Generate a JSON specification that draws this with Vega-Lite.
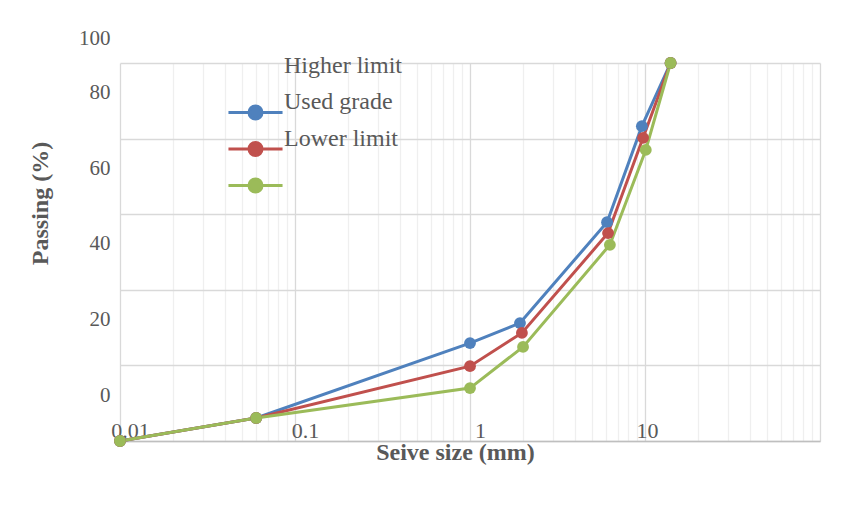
{
  "$schema": "https://vega.github.io/schema/vega-lite/v6.json",
  "width": 700,
  "height": 378,
  "autosize": {"type": "none"},
  "padding": {"left": 120, "top": 63, "right": 31, "bottom": 67},
  "background": "white",
  "config": {"view": {"stroke": null}, "font": "Liberation Serif"},
  "data": {
    "values": [
      {"series": "Higher limit", "size": 0.01, "passing": 0},
      {"series": "Higher limit", "size": 0.06, "passing": 6.1},
      {"series": "Higher limit", "size": 1.0, "passing": 25.9},
      {"series": "Higher limit", "size": 1.93, "passing": 31.2},
      {"series": "Higher limit", "size": 6.07, "passing": 57.9},
      {"series": "Higher limit", "size": 9.6, "passing": 83.3},
      {"series": "Higher limit", "size": 14, "passing": 100},
      {"series": "Used grade", "size": 0.01, "passing": 0},
      {"series": "Used grade", "size": 0.06, "passing": 6.1},
      {"series": "Used grade", "size": 1.0, "passing": 19.8},
      {"series": "Used grade", "size": 1.98, "passing": 28.6},
      {"series": "Used grade", "size": 6.15, "passing": 55.0},
      {"series": "Used grade", "size": 9.75, "passing": 80.2},
      {"series": "Used grade", "size": 14, "passing": 100},
      {"series": "Lower limit", "size": 0.01, "passing": 0},
      {"series": "Lower limit", "size": 0.06, "passing": 6.1},
      {"series": "Lower limit", "size": 1.0, "passing": 14.0},
      {"series": "Lower limit", "size": 2.01, "passing": 24.9},
      {"series": "Lower limit", "size": 6.3, "passing": 51.9},
      {"series": "Lower limit", "size": 10.1, "passing": 77.0},
      {"series": "Lower limit", "size": 14, "passing": 100}
    ]
  },
  "mark": {"type": "line", "strokeWidth": 3, "point": {"filled": true, "size": 140, "opacity": 1}},
  "encoding": {
    "x": {
      "field": "size",
      "type": "quantitative",
      "scale": {"type": "log", "domain": [0.01, 100], "nice": false},
      "axis": {
        "title": "Seive size (mm)",
        "values": [0.01, 0.02, 0.03, 0.04, 0.05, 0.06, 0.07, 0.08, 0.09, 0.1, 0.2, 0.3, 0.4, 0.5, 0.6, 0.7, 0.8, 0.9, 1, 2, 3, 4, 5, 6, 7, 8, 9, 10, 20, 30, 40, 50, 60, 70, 80, 90, 100],
        "labelExpr": "datum.value == 0.01 ? '0.01' : datum.value == 0.1 ? '0.1' : datum.value == 1 ? '1' : datum.value == 10 ? '10' : ''",
        "ticks": false,
        "tickSize": 0,
        "labelPadding": -4,
        "labelBaseline": "alphabetic",
        "labelFontSize": 22,
        "labelColor": "#595959",
        "labelFont": "Liberation Serif",
        "labelOffset": {"condition": {"test": "datum.value == 10", "value": 2}, "value": 10},
        "labelFlush": false,
        "labelOverlap": false,
        "labelBound": false,
        "grid": true,
        "gridColor": {"condition": {"test": "datum.value == 0.01 || datum.value == 0.1 || datum.value == 1 || datum.value == 10 || datum.value == 100", "value": "#D9D9D9"}, "value": "#EFEFEF"},
        "gridWidth": 1.3,
        "domain": true,
        "domainColor": "#BFBFBF",
        "domainWidth": 1.5,
        "titleFont": "Liberation Serif",
        "titleFontSize": 24,
        "titleFontWeight": "bold",
        "titleColor": "#595959",
        "titleX": 335,
        "titleY": 18,
        "titleBaseline": "alphabetic",
        "titleAlign": "center"
      }
    },
    "y": {
      "field": "passing",
      "type": "quantitative",
      "scale": {"domain": [0, 100], "nice": false},
      "axis": {
        "title": "Passing (%)",
        "values": [0, 20, 40, 60, 80, 100],
        "ticks": false,
        "tickSize": 0,
        "domain": false,
        "labelPadding": 10,
        "labelFontSize": 21,
        "labelColor": "#595959",
        "labelFont": "Liberation Serif",
        "labelOffset": {"condition": {"test": "datum.value == 100", "value": -25}, "value": -46},
        "labelBound": false,
        "labelFlush": false,
        "labelOverlap": false,
        "grid": true,
        "gridColor": "#D9D9D9",
        "gridWidth": 1.5,
        "titleX": -80,
        "titleY": 140,
        "titleAngle": -90,
        "titleAlign": "center",
        "titleBaseline": "middle",
        "titleFont": "Liberation Serif",
        "titleFontSize": 24,
        "titleFontWeight": "bold",
        "titleColor": "#595959"
      }
    },
    "color": {
      "field": "series",
      "type": "nominal",
      "sort": ["Higher limit", "Used grade", "Lower limit"],
      "scale": {"domain": ["Higher limit", "Used grade", "Lower limit"], "range": ["#4F81BD", "#C0504D", "#9BBB59"]},
      "legend": {
        "orient": "none",
        "legendX": 121,
        "legendY": 35,
        "title": null,
        "padding": 0,
        "symbolType": "M-2.08,0H2.08M0.5,0A0.5,0.5,0,1,1,-0.5,0A0.5,0.5,0,1,1,0.5,0Z",
        "symbolSize": 676,
        "symbolStrokeWidth": 3,
        "labelFontSize": 24,
        "labelColor": "#595959",
        "labelFont": "Liberation Serif",
        "labelOffset": 14,
        "rowPadding": -35.5,
        "encoding": {
          "symbols": {
            "fill": {"value": {"expr": "scale('color', datum.value)"}},
            "stroke": {"value": {"expr": "scale('color', datum.value)"}},
            "opacity": {"value": 1}
          },
          "labels": {"dy": {"value": -47}}
        }
      }
    }
  }
}
